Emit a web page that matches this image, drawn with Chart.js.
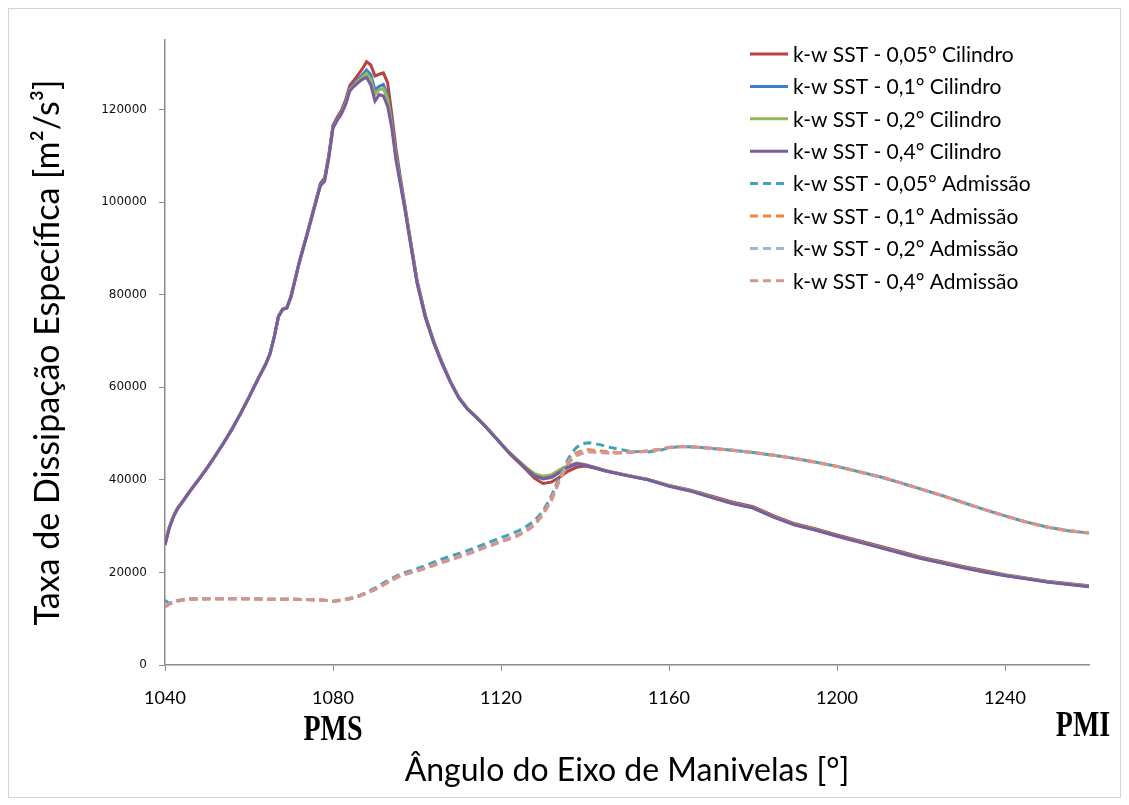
<!DOCTYPE html>
<html>
<head>
<meta charset="utf-8">
<script src="https://cdn.jsdelivr.net/npm/chart.js@4.4.1/dist/chart.umd.min.js"></script>
<style>
  html, body { margin: 0; padding: 0; background: #fff; }
  #wrap { width: 1129px; height: 805px; }
</style>
</head>
<body>
<div id="wrap"><canvas id="chart" width="1129" height="805"></canvas></div>
<script>
// axis tick labels
const xTickValues = [1040, 1080, 1120, 1160, 1200, 1240];
const yTickValues = [0, 20000, 40000, 60000, 80000, 100000, 120000];

// crank angle for the cylinder series
const cylAngles = [
  1040, 1041, 1042, 1043, 1044, 1046, 1048, 1050, 1052, 1054,
  1056, 1058, 1060, 1062, 1064, 1065, 1066, 1067, 1068, 1069,
  1070, 1072, 1074, 1076, 1077, 1078, 1079, 1080, 1081, 1082,
  1083, 1084, 1085, 1086, 1087, 1088, 1089, 1090, 1091, 1092,
  1093, 1094, 1095, 1096, 1097, 1098, 1099, 1100, 1102, 1104,
  1106, 1108, 1110, 1112, 1114, 1116, 1118, 1120, 1122, 1124,
  1126, 1128, 1130, 1132, 1134, 1136, 1138, 1140, 1142, 1145,
  1150, 1155, 1160, 1165, 1170, 1175, 1180, 1185, 1190, 1195,
  1200, 1205, 1210, 1215, 1220, 1225, 1230, 1235, 1240, 1245,
  1250, 1255, 1260
];

const cyl005 = [
  26200, 29700, 32100, 33900, 35100, 37700, 40100, 42600, 45300, 48100,
  51100, 54400, 57900, 61600, 65100, 67300, 70900, 75300, 76900, 77200,
  79700, 87200, 93800, 100600, 104000, 105200, 110200, 116600, 118300, 119800,
  122000, 125200, 126300, 127500, 128800, 130300, 129600, 127200, 127600, 127900,
  125800, 119000, 111500, 105500, 100000, 94300, 88800, 83200, 75500, 69900,
  65300, 61200, 57800, 55400, 53700, 51900, 49900, 47800, 45700, 43900,
  42200, 40300, 39200, 39500, 40600, 41900, 42700, 43000, 42600, 41900,
  41000, 40100, 38800, 37800, 36500, 35200, 34200, 32200, 30500, 29400,
  28100, 26900, 25700, 24500, 23300, 22300, 21300, 20400, 19500, 18800,
  18100, 17600, 17100
];

const cyl01 = [
  26000, 29600, 32000, 33800, 35000, 37600, 40000, 42500, 45200, 48000,
  51000, 54300, 57800, 61500, 65000, 67200, 70800, 75200, 76800, 77100,
  79600, 87100, 93600, 100400, 103800, 104800, 109900, 116300, 117900, 119400,
  121500, 124600, 125500, 126500, 127500, 128500, 127500, 124200, 125000, 125400,
  123000, 117200, 110300, 104800, 99500, 93900, 88400, 82800, 75200, 69700,
  65100, 61100, 57700, 55300, 53600, 51800, 49800, 47800, 45800, 44100,
  42400, 40800, 40200, 40500, 41600, 42700, 43400, 43200, 42700, 41900,
  40900, 40000, 38700, 37700, 36300, 35000, 34000, 32000, 30300, 29200,
  27900, 26700, 25500, 24300, 23100, 22100, 21100, 20200, 19400, 18700,
  18000, 17500, 17000
];

const cyl02 = [
  26800, 29800, 32100, 33900, 35100, 37600, 40000, 42500, 45200, 48000,
  51000, 54300, 57800, 61500, 65000, 67200, 70800, 75200, 76800, 77100,
  79500, 87000, 93500, 100300, 103600, 104600, 109700, 116100, 117700, 119200,
  121300, 124300, 125200, 126200, 127000, 127800, 126500, 123200, 124300, 124500,
  122200, 116700, 109800, 104500, 99300, 93700, 88200, 82700, 75100, 69600,
  65100, 61100, 57700, 55400, 53700, 51900, 49900, 47900, 45900, 44300,
  42700, 41300, 40800, 41100, 42200, 43100, 43600, 43300, 42800, 42000,
  41000, 40100, 38800, 37700, 36300, 35000, 34000, 32000, 30300, 29200,
  27900, 26700, 25500, 24300, 23100, 22100, 21100, 20200, 19400, 18700,
  18000, 17500, 17000
];

const cyl04 = [
  25900, 29500, 32000, 33800, 35000, 37600, 40000, 42500, 45200, 48000,
  51000, 54300, 57800, 61500, 65000, 67200, 70800, 75200, 76800, 77100,
  79500, 87000, 93500, 100200, 103500, 104500, 109500, 116000, 117600, 119000,
  121000, 124000, 125000, 125800, 126500, 126900, 125300, 121800, 123200, 122900,
  120700, 116000, 109000, 104000, 99000, 93500, 88000, 82500, 75000, 69500,
  65000, 61000, 57600, 55300, 53600, 51800, 49800, 47800, 45800, 44100,
  42400, 40900, 40300, 40600, 41700, 42800, 43500, 43200, 42700, 41900,
  40900, 40000, 38600, 37600, 36200, 34900, 33900, 31900, 30200, 29100,
  27800, 26600, 25400, 24200, 23000, 22000, 21000, 20100, 19300, 18600,
  17900, 17400, 16900
];

// crank angle for the intake (admissão) series
const admAngles = [
  1040, 1041, 1042, 1044, 1046, 1050, 1055, 1060, 1065, 1070,
  1075, 1078, 1080, 1082, 1084, 1086, 1088, 1090, 1092, 1094,
  1096, 1098, 1100, 1102, 1104, 1106, 1108, 1110, 1112, 1114,
  1116, 1118, 1120, 1122, 1124, 1126, 1128, 1130, 1132, 1134,
  1136, 1137, 1138, 1139, 1140, 1141, 1142, 1144, 1146, 1148,
  1150, 1152, 1155, 1158, 1160, 1163, 1166, 1170, 1175, 1180,
  1185, 1190, 1195, 1200, 1205, 1210, 1215, 1220, 1225, 1230,
  1235, 1240, 1245, 1250, 1255, 1260
];

const adm005 = [
  14000, 13300, 13800, 14100, 14300, 14300, 14300, 14300, 14200, 14200,
  14100, 14000, 13800, 14100, 14400, 14900, 15700, 16600, 17700, 18700,
  19600, 20200, 20800, 21500, 22200, 22900, 23500, 24100, 24700, 25400,
  26100, 26800, 27500, 28200, 28900, 29900, 31200, 33200, 36500, 40800,
  44500, 46000, 47000, 47600, 47900, 48000, 47900, 47500, 47000, 46600,
  46300, 46100, 46000, 46400, 46900, 47200, 47100, 46800, 46400, 45900,
  45300, 44600, 43800, 42900, 41800, 40700, 39400, 38000, 36600, 35100,
  33600, 32200, 30900, 29800, 29000, 28500
];

const adm01 = [
  12800, 13200, 13700, 14000, 14200, 14300, 14300, 14300, 14200, 14200,
  14100, 14000, 13700, 14000, 14300, 14800, 15600, 16400, 17400, 18400,
  19400, 19900, 20400, 21000, 21700, 22300, 22900, 23500, 24100, 24800,
  25500, 26100, 26800, 27400, 28100, 29100, 30500, 32800, 35900, 40400,
  44000, 45300, 45800, 46200, 46500, 46500, 46400, 46200, 46000, 45900,
  46000, 46100, 46200, 46600, 47000, 47200, 47100, 46800, 46400, 45900,
  45300, 44600, 43800, 42900, 41800, 40700, 39400, 38000, 36600, 35100,
  33600, 32200, 30900, 29800, 29000, 28500
];

const adm02 = [
  12700, 13200, 13600, 14000, 14200, 14300, 14300, 14300, 14200, 14200,
  14100, 14000, 13700, 14000, 14300, 14800, 15500, 16300, 17300, 18300,
  19300, 19800, 20300, 20900, 21600, 22200, 22800, 23400, 24000, 24700,
  25400, 26000, 26700, 27300, 28000, 29000, 30300, 32600, 35700, 40200,
  43700, 44800, 45400, 45800, 46100, 46100, 46100, 45900, 45800, 45800,
  45900, 46000, 46200, 46600, 47000, 47200, 47100, 46800, 46400, 45900,
  45300, 44600, 43800, 42900, 41800, 40700, 39400, 38000, 36600, 35100,
  33600, 32200, 30900, 29800, 29000, 28500
];

const adm04 = [
  12500, 13100, 13600, 14000, 14200, 14300, 14300, 14300, 14200, 14200,
  14100, 14000, 13700, 14000, 14300, 14800, 15500, 16300, 17300, 18300,
  19200, 19800, 20300, 20900, 21500, 22100, 22700, 23300, 23900, 24600,
  25300, 25900, 26600, 27200, 27900, 28900, 30200, 32500, 35500, 40000,
  43500, 44500, 45200, 45600, 45900, 46000, 46000, 45900, 45800, 45800,
  45900, 46000, 46200, 46600, 47000, 47200, 47100, 46800, 46400, 45900,
  45300, 44600, 43800, 42900, 41800, 40700, 39400, 38000, 36600, 35100,
  33600, 32200, 30900, 29800, 29000, 28500
];

const seriesLabels = [
  'k-w SST - 0,05° Cilindro',
  'k-w SST - 0,1° Cilindro',
  'k-w SST - 0,2° Cilindro',
  'k-w SST - 0,4° Cilindro',
  'k-w SST - 0,05° Admissão',
  'k-w SST - 0,1° Admissão',
  'k-w SST - 0,2° Admissão',
  'k-w SST - 0,4° Admissão'
];
const seriesColors = ['#B8423E', '#3A7ED2', '#94B853', '#7A5DA0', '#3DA3BE', '#EE8639', '#9FB6DA', '#D89290'];

const cylSeries = [cyl005, cyl01, cyl02, cyl04];
const admSeries = [adm005, adm01, adm02, adm04];

function toPoints(angles, values) {
  return angles.map((a, i) => ({ x: a, y: values[i] }));
}

const datasets = [];
cylSeries.forEach((vals, i) => {
  datasets.push({
    label: seriesLabels[i],
    data: toPoints(cylAngles, vals),
    borderColor: seriesColors[i],
    borderWidth: 3,
    order: 7 - i,
  });
});
admSeries.forEach((vals, i) => {
  datasets.push({
    label: seriesLabels[i + 4],
    data: toPoints(admAngles, vals),
    borderColor: seriesColors[i + 4],
    borderWidth: 3,
    borderDash: [8, 5],
    order: 3 - i,
  });
});

// white background + thin outer frame
const frame = {
  id: 'frame',
  beforeDraw(chart) {
    const ctx = chart.ctx;
    ctx.save();
    ctx.fillStyle = '#fff';
    ctx.fillRect(0, 0, chart.width, chart.height);
    ctx.strokeStyle = '#d4d4d4';
    ctx.lineWidth = 1;
    ctx.strokeRect(8.5, 8.5, 1112, 789);
    ctx.restore();
  }
};

// legend inside the plot, top right, like the original
const legendBox = {
  id: 'legendBox',
  afterDraw(chart) {
    const ctx = chart.ctx;
    ctx.save();
    ctx.font = '21px Lato';
    ctx.textBaseline = 'middle';
    chart.data.datasets.forEach((ds, i) => {
      const y = 54 + i * 32.4;
      ctx.strokeStyle = ds.borderColor;
      ctx.lineWidth = 3;
      ctx.setLineDash(ds.borderDash || []);
      ctx.beginPath();
      ctx.moveTo(750, y);
      ctx.lineTo(788, y);
      ctx.stroke();
      ctx.setLineDash([]);
      ctx.fillStyle = '#000';
      ctx.fillText(ds.label, 793, y + 1);
    });
    ctx.restore();
  }
};

// PMS / PMI markers under the x axis (tall, condensed serif)
const deadCenters = {
  id: 'deadCenters',
  afterDraw(chart) {
    const ctx = chart.ctx;
    const x = chart.scales.x;
    const marks = [['PMS', x.getPixelForValue(1080), 731], ['PMI', x.getPixelForValue(1260) - 6, 727]];
    ctx.fillStyle = '#000';
    ctx.font = 'bold 28px "Liberation Serif"';
    ctx.textAlign = 'center';
    ctx.textBaseline = 'middle';
    marks.forEach(([t, px, py]) => {
      ctx.save();
      ctx.translate(px, py);
      ctx.scale(1, 1.25);
      ctx.fillText(t, 0, 0);
      ctx.restore();
    });
  }
};

new Chart(document.getElementById('chart'), {
  type: 'line',
  data: { datasets: datasets },
  options: {
    responsive: false,
    animation: false,
    devicePixelRatio: 1,
    layout: { padding: { left: 0, top: 40, right: 40, bottom: 0 } },
    elements: {
      point: { radius: 0 },
      line: { tension: 0, borderCapStyle: 'butt' },
    },
    plugins: {
      legend: { display: false },
      tooltip: { enabled: false },
    },
    scales: {
      x: {
        type: 'linear',
        min: 1040,
        max: 1260,
        afterFit: (scale) => { scale.height = 140; },
        afterBuildTicks: (scale) => { scale.ticks = xTickValues.map(v => ({ value: v })); },
        grid: { drawOnChartArea: false, drawTicks: true, tickLength: 6, color: '#8c8c8c' },
        border: { color: '#8c8c8c', width: 1.5 },
        ticks: {
          padding: 16,
          color: '#000',
          maxRotation: 0,
          autoSkip: false,
          font: { family: 'Lato', size: 18 },
          callback: (v) => String(v),
        },
        title: {
          display: true,
          text: 'Ângulo do Eixo de Manivelas [°]',
          color: '#000',
          font: { family: 'Lato', size: 32 },
          padding: { top: 0, bottom: 15 },
        },
      },
      y: {
        min: 0,
        max: 135000,
        afterFit: (scale) => { scale.width = 165; },
        afterBuildTicks: (scale) => { scale.ticks = yTickValues.map(v => ({ value: v })); },
        grid: { drawOnChartArea: false, drawTicks: true, tickLength: 6, color: '#8c8c8c' },
        border: { color: '#8c8c8c', width: 1.5 },
        ticks: {
          padding: 12,
          color: '#111',
          autoSkip: false,
          font: { family: 'DejaVu Sans', size: 12 },
          callback: (v) => String(v),
        },
        title: {
          display: true,
          text: 'Taxa de Dissipação Específica [m²/s³]',
          color: '#000',
          font: { family: 'Lato', size: 34 },
          padding: { top: 28, bottom: 0 },
        },
      },
    },
  },
  plugins: [frame, legendBox, deadCenters],
});
</script>
</body>
</html>
